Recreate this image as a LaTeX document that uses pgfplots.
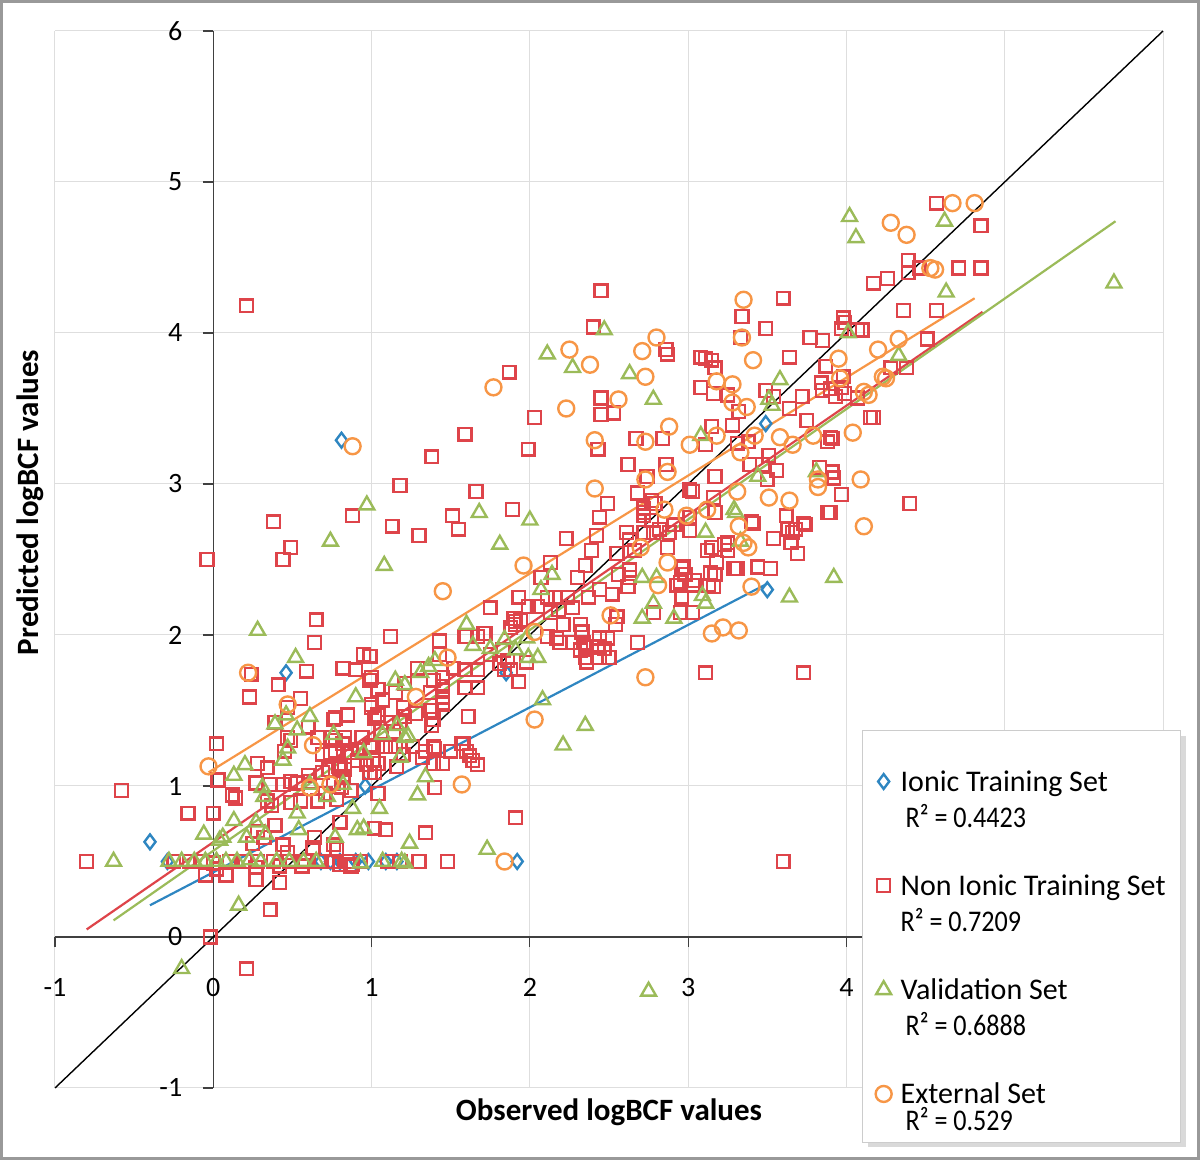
\documentclass[border=0pt]{standalone}
\usepackage{pgfplots}
\pgfplotsset{compat=1.18}
\usepackage{fontspec}
\setmainfont{Carlito}
\usepackage{graphicx}
\usetikzlibrary{shadows}
\definecolor{cblue}{RGB}{46,134,193}
\definecolor{cred}{RGB}{222,68,74}
\definecolor{cgreen}{RGB}{155,187,89}
\definecolor{corange}{RGB}{247,150,70}
\newcommand{\ls}{\rule[-3.5pt]{0pt}{15pt}}
\pgfplotsset{mymk/.style={only marks, legend image code/.code={\draw[##1] plot coordinates {(0pt,0pt)};}}}
\begin{document}
\begin{tikzpicture}
\begin{axis}[
 scale only axis, width=554pt, height=528.5pt,
 xmin=-1, xmax=6, ymin=-1, ymax=6,
 axis lines=middle, axis line style={-, black!75, line width=0.6pt},
 xtick={-1,0,...,6}, ytick={-1,0,...,6},
 xticklabels={-1,0,1,2,3,4,{},{}},
 hide obscured x ticks=false, hide obscured y ticks=false,
 tick align=outside, major tick length=5pt, tick style={black!75, line width=0.6pt},
 grid=major, grid style={black!13, line width=0.5pt},
 /pgf/number format/assume math mode=true,
 ticklabel style={font=\fontsize{14}{16}\selectfont},
 xticklabel style={yshift=-12pt},
 yticklabel style={xshift=-7pt},
 xlabel={Observed logBCF values}, ylabel={Predicted logBCF values},
 label style={font=\fontsize{15.5}{18}\selectfont\bfseries},
 xlabel style={at={(axis description cs:0.5,-0.0227)}, anchor=center},
 ylabel style={at={(axis description cs:-0.0226,0.554)}, anchor=center, rotate=90},
 clip=false,
 legend cell align=left,
 legend style={at={(axis cs:4.10,1.37)}, anchor=north west, draw=black!20, fill=white,
   inner xsep=6.5pt, inner ysep=3pt, row sep=3pt, column sep=3.5pt,
   font=\fontsize{15}{18}\selectfont, nodes={inner sep=1pt}, cells={anchor=west},
   drop shadow={shadow xshift=2.5pt, shadow yshift=-2.5pt, opacity=0.3}},
]
\addlegendimage{empty legend}\addlegendentry{\rule{0pt}{8.5pt}}
% Ionic training set
\addplot[mymk, mark=diamond, mark size=3.7pt, mark options={draw=cblue, line width=1.2pt}] coordinates {
(-0.40,0.63) (-0.29,0.50) (0.68,0.50) (0.74,0.50) (0.80,0.50) (0.90,0.50) (0.98,0.50) (1.09,0.50) (1.16,0.50) (1.92,0.50) (0.46,1.75) (0.81,3.29) (3.49,3.40) (3.50,2.30) (1.85,1.75) (0.96,1.00)
};
\addlegendentry{\ls Ionic Training Set}
\addlegendimage{empty legend}\addlegendentry{\ls\hspace*{2.5pt}\scalebox{0.87}[1]{R² = 0.4423}}
\addlegendimage{empty legend}\addlegendentry{\rule{0pt}{9.5pt}}
% Non ionic training set
\addplot[mymk, mark=square, mark size=3.2pt, mark options={draw=cred, line width=1.2pt}] coordinates {
(0.21,4.18) (-0.04,2.50) (-0.58,0.97) (-0.80,0.50) (0.21,-0.21) (-0.02,0.00) (3.60,0.50) (3.73,1.75) (3.11,1.75) (1.91,0.79) (1.48,0.50) (1.30,0.50)
(0.38,2.75) (0.49,2.58) (0.44,2.50) (0.65,2.10) (0.64,1.95) (0.23,1.59) (0.24,1.74) (0.41,1.67) (0.59,1.76) (0.55,1.58) (0.39,1.42) (0.49,1.30) (0.47,1.52)
(1.18,2.99) (0.88,2.79) (1.13,2.72) (1.30,2.66) (1.38,3.18) (1.51,2.79) (1.55,2.70) (1.66,2.95) (1.59,3.33) (1.87,3.74) (1.89,2.83) (2.03,3.44) (1.99,3.23)
(1.12,1.99) (0.95,1.87) (0.99,1.86) (0.82,1.78) (0.90,1.77) (0.99,1.70) (1.00,1.72) (1.04,1.64) (1.15,1.62) (0.76,1.44) (0.85,1.47) (1.29,1.78) (1.43,1.96)
(1.43,1.87) (1.60,1.99) (1.72,2.01) (1.75,2.18) (1.84,1.77) (1.88,2.05) (1.91,2.09) (1.93,2.25) (2.07,2.38) (2.13,2.48) (2.23,2.64) (2.18,2.17) (2.30,2.38)
(2.39,2.56) (2.35,2.46) (2.44,2.78) (2.42,2.66) (2.49,2.87) (2.43,3.23) (2.45,3.46) (2.53,3.47) (2.45,3.57) (2.40,4.04) (2.45,4.28) (2.62,3.13) (2.67,3.30)
(2.68,2.94) (2.86,3.89) (2.84,3.30) (2.86,3.13) (2.88,2.68) (2.79,2.87) (2.77,2.76) (2.61,2.68) (2.63,2.63) (2.66,2.56) (2.72,2.81) (2.72,2.68) (2.78,2.68)
(2.82,2.70) (2.87,2.58) (2.91,2.73) (3.01,2.96) (3.03,2.95) (3.01,2.78) (3.08,3.84) (3.11,3.83) (3.15,3.82) (3.17,3.77) (2.87,3.86) (3.08,3.64) (3.15,3.38)
(3.11,3.26) (3.17,3.05) (3.17,2.81) (3.16,2.91) (3.34,4.11) (3.33,3.97) (3.32,3.48) (3.28,3.39) (3.16,3.60) (3.25,3.59) (3.31,3.27) (3.38,3.28) (3.39,3.13)
(3.47,3.13) (3.49,4.03) (3.60,4.23) (3.49,3.62) (3.54,3.58) (3.64,3.50) (3.64,3.84) (3.72,3.58) (3.75,3.42) (3.73,2.74) (3.77,3.97) (3.85,3.95) (3.85,3.62)
(3.68,2.70) (3.65,2.61) (3.69,2.54) (3.62,2.79) (3.54,2.64) (3.44,2.45) (3.41,2.74) (3.23,2.60) (3.15,2.58) (3.30,2.44) (3.14,2.41) (3.16,2.32) (3.04,2.36)
(2.95,2.35) (2.96,2.44) (3.01,2.69) (3.84,3.67) (3.87,3.78) (3.88,3.28) (3.90,3.31) (3.92,3.04) (3.89,2.81) (3.90,3.63) (3.97,4.03) (3.98,4.10) (3.99,4.07)
(3.97,3.64) (3.97,2.93) (3.83,3.11) (3.91,3.08) (4.07,3.57) (4.07,4.02) (4.10,4.02) (4.15,3.44) (4.17,3.44) (4.57,4.86) (4.85,4.71) (4.71,4.43) (4.85,4.43)
(4.39,4.48) (4.39,4.40) (4.46,4.43) (4.26,4.36) (4.17,4.33) (4.36,4.15) (4.57,4.15) (4.51,3.96) (4.28,3.77) (4.38,3.77) (3.98,3.71) (3.93,3.58) (3.99,3.60)
(3.91,3.30) (4.40,2.87) (3.90,2.81) (3.56,3.09) (3.50,3.03) (3.51,3.19) (2.74,3.05) (2.72,2.84) (2.72,2.79) (2.77,2.89)
(2.55,2.54) (2.63,2.43) (2.63,2.38) (2.62,2.32) (2.56,2.40) (2.37,2.25) (2.44,2.30) (2.52,2.27) (2.27,2.18) (2.21,2.07) (2.11,2.25) (2.16,2.25) (2.24,2.25)
(1.99,2.19) (2.05,2.19) (2.13,2.15) (1.90,2.11) (1.94,2.10) (1.91,2.07) (1.67,1.99) (1.71,2.01) (1.59,1.99) (2.11,1.99) (2.17,1.98) (2.19,1.95) (2.27,1.95)
(2.34,1.95) (2.32,2.07) (2.33,2.02) (2.36,1.92) (2.32,1.90) (2.35,1.85) (2.36,1.82) (2.44,1.98) (2.49,1.98) (2.43,1.92) (2.47,1.91) (2.50,1.85) (2.44,1.85)
(2.54,2.07) (2.55,2.12) (2.68,1.95) (2.78,2.15) (2.93,2.33) (2.97,2.45) (2.98,2.40) (3.03,2.33) (3.13,2.33) (2.96,2.25) (2.95,2.15) (3.03,2.15) (3.12,2.56)
(3.18,2.48) (3.17,2.40) (3.25,2.61) (3.25,2.56) (3.29,2.44) (3.31,2.44) (3.52,2.44) (3.40,2.75) (3.63,2.70) (3.66,2.68) (3.74,2.73) (3.88,2.81)
(1.59,1.77) (1.59,1.65) (1.67,1.65) (1.39,1.70) (1.45,1.72) (1.45,1.55) (1.38,1.50) (1.61,1.46) (1.21,1.68) (1.83,1.90) (1.81,1.81) (1.88,1.77) (1.93,1.69)
(1.75,1.87) (1.98,1.82) (1.86,1.83) (1.39,1.26) (1.57,1.28) (1.21,1.46) (1.67,1.77) (1.45,1.59) (1.07,1.57) (1.20,1.52) (1.37,1.50) (1.45,1.54) (1.39,1.44)
(1.38,1.40) (1.28,1.48) (1.00,1.54) (1.04,1.47) (0.77,1.45) (0.60,1.39) (0.66,1.32) (0.47,1.32) (0.45,1.23) (0.75,1.32) (0.82,1.28) (0.94,1.32) (0.99,1.26)
(1.09,1.26) (1.12,1.26) (1.15,1.26) (1.26,1.26) (1.34,1.23) (1.40,1.25) (1.50,1.23) (1.58,1.28) (1.60,1.23) (1.62,1.20) (1.64,1.17) (1.67,1.14) (1.39,1.15)
(1.45,1.15) (1.32,1.19) (1.16,1.13) (1.20,1.21) (1.01,1.17) (1.04,1.15) (1.02,1.09) (0.91,1.17) (0.87,1.22) (0.69,1.21) (0.74,1.22) (0.79,1.13) (0.73,1.11)
(0.60,1.07) (0.69,1.09) (0.61,1.03) (0.49,1.03) (0.44,1.01) (0.28,1.15) (0.34,1.12) (1.00,1.52) (1.02,1.45) (1.06,1.36) (1.10,1.42) (1.18,1.42) (1.14,1.36)
(1.45,1.66) (1.37,1.62) (1.52,1.78) (1.40,0.99) (1.34,0.69) (1.02,0.72) (1.09,0.71) (1.04,0.95)
(0.02,1.28) (0.03,1.04) (-0.16,0.82) (0.00,0.82) (0.12,0.94) (0.14,0.92) (0.27,1.02) (0.36,1.01) (0.53,1.02) (0.34,0.90) (0.37,0.87) (0.49,0.89) (0.55,0.90)
(0.66,0.90) (0.39,0.74) (0.28,0.70) (0.32,0.66) (0.25,0.62) (0.44,0.61) (0.47,0.56) (0.64,0.66) (0.63,0.59) (0.76,0.61) (0.78,0.58) (0.80,0.76) (0.71,0.95)
(0.78,0.91) (0.76,1.02) (0.81,0.99) (0.87,0.97) (0.82,1.06) (0.83,1.11) (0.80,1.12) (0.77,1.23) (0.77,1.30) (0.83,1.32) (0.92,1.24) (1.00,1.27) (0.97,1.14)
(0.99,1.09) (0.42,0.36) (0.27,0.38) (0.36,0.18) (0.08,0.41) (-0.05,0.41) (0.88,0.48)
(-0.25,0.50) (-0.15,0.50) (-0.08,0.50) (0.00,0.49) (0.10,0.50) (0.20,0.50) (0.28,0.50) (0.38,0.50) (0.48,0.50) (0.58,0.50) (0.68,0.50) (0.75,0.50) (0.85,0.50)
(0.93,0.50) (1.10,0.50) (1.18,0.50) (0.02,0.45) (0.27,0.46) (0.42,0.47) (0.56,0.47) (0.80,0.48) (0.87,0.47)
};
\addlegendentry{\ls Non Ionic Training Set}
\addlegendimage{empty legend}\addlegendentry{\ls\scalebox{0.87}[1]{R² = 0.7209}}
\addlegendimage{empty legend}\addlegendentry{\rule{0pt}{9.5pt}}
% Validation set
\addplot[mymk, mark=triangle, mark size=4.3pt, mark options={draw=cgreen, line width=1.2pt}] coordinates {
(-0.63,0.50) (-0.20,-0.21) (2.75,-0.36) (0.16,0.21) (0.28,2.03) (0.74,2.62) (0.97,2.86) (1.08,2.46) (0.52,1.85) (0.90,1.59) (1.68,2.81) (1.81,2.60) (2.00,2.76)
(2.11,3.86) (2.27,3.77) (2.47,4.02) (2.63,3.73) (2.78,3.56) (3.08,3.32) (3.11,2.68) (3.29,2.83) (3.33,2.62) (3.51,3.56) (3.58,3.69) (3.64,2.25) (3.92,2.38)
(3.81,3.08) (4.01,4.00) (4.33,3.85) (4.02,4.77) (4.06,4.63) (4.62,4.74) (4.63,4.27) (5.69,4.33) (2.08,1.57) (2.21,1.27) (2.35,1.40) (1.73,0.58) (1.19,0.50)
(1.05,0.85) (1.24,0.62) (1.29,0.94) (1.34,1.06) (0.95,0.72) (0.88,0.85) (0.82,1.01) (0.61,1.01) (0.54,0.71) (0.44,1.17) (0.39,1.41) (0.46,1.47) (0.13,1.07)
(0.20,1.14) (0.13,0.77) (0.04,0.64) (-0.06,0.68) (0.33,0.68) (0.23,0.51) (1.15,1.70) (1.21,1.67) (1.31,1.75) (1.36,1.79) (1.40,1.83) (1.60,2.07) (1.64,1.93)
(1.75,1.91) (1.84,1.97) (1.91,1.90) (1.99,1.85) (2.05,1.85) (1.98,1.98) (2.14,2.40) (2.07,2.30) (2.71,2.38) (2.80,2.38) (2.78,2.21) (2.71,2.11) (2.91,2.11)
(3.09,2.26) (3.11,2.21) (3.30,2.81) (3.44,3.05) (3.53,3.52) (1.21,1.32) (0.61,1.46) (0.53,1.37) (0.76,1.34) (0.47,1.25) (0.31,0.99) (0.32,0.93) (0.53,0.82)
(0.27,0.76) (0.21,0.66) (0.06,0.66) (0.72,0.93) (0.77,0.66) (0.91,0.71) (0.95,1.22) (1.18,1.19) (1.16,1.40) (1.07,1.34) (1.23,1.33) (0.93,0.49) (1.21,0.49)
(-0.28,0.50) (-0.20,0.50) (-0.12,0.50) (-0.05,0.50) (0.02,0.50) (0.08,0.50) (0.15,0.50) (0.30,0.50) (0.40,0.50) (0.48,0.50) (0.57,0.50) (0.65,0.50) (1.07,0.50)
};
\addlegendentry{\ls Validation Set}
\addlegendimage{empty legend}\addlegendentry{\ls\hspace*{2.5pt}\scalebox{0.87}[1]{R² = 0.6888}}
\addlegendimage{empty legend}\addlegendentry{\rule{0pt}{9.5pt}}
% External set
\addplot[mymk, mark=o, mark size=4pt, mark options={draw=corange, line width=1.2pt}] coordinates {
(0.88,3.25) (0.22,1.75) (-0.03,1.13) (0.47,1.54) (0.63,1.27) (1.45,2.29) (1.77,3.64) (1.96,2.46) (2.25,3.89) (2.23,3.50) (2.38,3.79) (2.41,3.29) (2.41,2.97)
(2.56,3.56) (2.71,3.88) (2.73,3.71) (2.80,3.97) (2.73,3.28) (2.88,3.38) (3.01,3.26) (2.87,3.08) (2.73,3.03) (2.85,2.83) (2.99,2.79) (2.70,2.58) (2.87,2.48)
(2.81,2.33) (2.51,2.13) (2.73,1.72) (2.03,1.44) (1.57,1.01) (1.84,0.50) (1.48,1.85) (1.28,1.59) (2.03,2.02) (3.35,4.22) (3.34,3.97) (3.41,3.82) (3.18,3.68)
(3.28,3.66) (3.28,3.54) (3.37,3.51) (3.18,3.32) (3.42,3.32) (3.58,3.31) (3.66,3.26) (3.33,3.21) (3.79,3.32) (4.04,3.34) (3.95,3.83) (3.96,3.70) (4.20,3.89)
(4.33,3.96) (4.11,3.61) (4.14,3.59) (4.23,3.71) (3.31,2.95) (3.82,3.03) (3.82,2.98) (4.09,3.03) (3.51,2.91) (3.64,2.89) (3.32,2.72) (4.11,2.72) (3.12,2.83)
(3.35,2.61) (3.38,2.58) (3.40,2.32) (3.15,2.01) (3.22,2.05) (3.32,2.03) (4.67,4.86) (4.81,4.86) (4.28,4.73) (4.38,4.65) (4.53,4.43) (4.56,4.42) (4.25,3.70)
(0.74,1.01) (0.61,0.99)
};
\addlegendentry{\ls External Set}
\addlegendimage{empty legend}\addlegendentry{\raisebox{0pt}[7pt][2pt]{\hspace*{2.5pt}\scalebox{0.87}[1]{R² = 0.529}}}
% trend lines and y = x
\addplot[forget plot, black, line width=0.7pt] coordinates {(-1,-1) (6,6)};
\addplot[forget plot, cblue, line width=1.1pt] coordinates {(-0.40,0.21) (3.50,2.34)};
\addplot[forget plot, cred, line width=1.1pt] coordinates {(-0.80,0.05) (4.86,4.14)};
\addplot[forget plot, cgreen, line width=1.1pt] coordinates {(-0.63,0.11) (5.70,4.74)};
\addplot[forget plot, corange, line width=1.1pt] coordinates {(-0.03,1.09) (4.81,4.23)};
\coordinate (fbl) at ([xshift=-27.5pt,yshift=-36pt]rel axis cs:0,0);
\coordinate (ftr) at ([xshift=18.5pt,yshift=15.5pt]rel axis cs:1,1);
\end{axis}
\pgfresetboundingbox
\draw[black!40, line width=1.5pt] ([shift={(0.75pt,0.75pt)}]fbl) rectangle ([shift={(-0.75pt,-0.75pt)}]ftr);
\useasboundingbox (fbl) rectangle (ftr);
\end{tikzpicture}
\end{document}
